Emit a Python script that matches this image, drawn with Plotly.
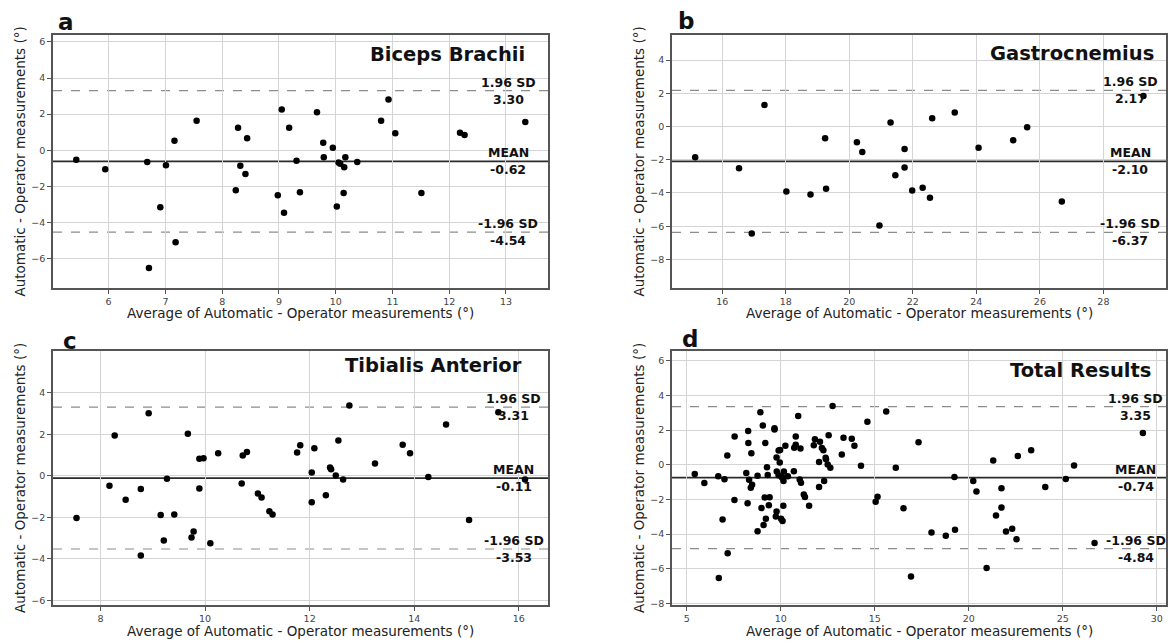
import plotly.graph_objects as go

# ---------------- data ----------------
a_x = [5.43, 5.94, 6.68, 7.01, 6.91, 7.16, 7.55, 7.18, 6.71, 8.28, 8.44, 8.32, 8.41, 8.24, 8.98,
       9.05, 9.18, 9.31, 9.09, 9.37, 9.67, 9.78, 9.79, 9.95, 10.05, 10.08, 10.15, 10.17, 10.38,
       10.14, 10.02, 10.80, 10.93, 11.05, 11.51, 12.19, 12.27, 13.34]
a_y = [-0.53, -1.05, -0.66, -0.83, -3.16, 0.53, 1.63, -5.10, -6.53, 1.25, 0.66, -0.86, -1.32, -2.22, -2.50,
       2.26, 1.25, -0.59, -3.47, -2.33, 2.11, 0.42, -0.39, 0.13, -0.68, -0.75, -0.94, -0.39, -0.66,
       -2.37, -3.12, 1.63, 2.81, 0.94, -2.37, 0.97, 0.84, 1.56]

b_x = [15.15, 16.53, 16.93, 17.33, 18.02, 18.78, 19.24, 19.27, 20.24, 20.41, 20.95, 21.30, 21.74,
       21.74, 21.45, 21.98, 22.31, 22.54, 22.61, 23.32, 24.07, 25.16, 25.60, 26.69, 29.26]
b_y = [-1.85, -2.51, -6.44, 1.30, -3.91, -4.09, -0.70, -3.75, -0.94, -1.54, -5.96, 0.24, -1.36,
       -2.47, -2.93, -3.85, -3.69, -4.29, 0.50, 0.84, -1.28, -0.82, -0.04, -4.51, 1.83]

c_x = [7.54, 8.17, 8.27, 8.48, 8.77, 8.77, 8.92, 9.15, 9.21, 9.27, 9.41, 9.67, 9.74, 9.78, 9.89,
       9.97, 9.89, 10.10, 10.25, 10.70, 10.72, 10.80, 11.01, 11.08, 11.23, 11.29, 11.76, 11.82,
       12.09, 12.04, 12.04, 12.31, 12.39, 12.41, 12.50, 12.55, 12.64, 12.76, 13.25, 13.78, 13.92,
       14.27, 14.61, 15.05, 15.61, 16.12]
c_y = [-2.03, -0.48, 1.94, -1.15, -0.64, -3.84, 3.02, -1.89, -3.12, -0.14, -1.87, 2.03, -2.98, -2.69, 0.82,
       0.85, -0.61, -3.25, 1.09, -0.37, 0.98, 1.15, -0.85, -1.04, -1.71, -1.86, 1.12, 1.47,
       1.33, 0.16, -1.28, -0.94, 0.40, 0.32, 0.02, 1.70, -0.18, 3.39, 0.59, 1.50, 1.09,
       -0.06, 2.48, -2.13, 3.07, -0.18]

# Total results = all muscles together
d_x = a_x + b_x + c_x
d_y = a_y + b_y + c_y

# upper limit, mean, lower limit
a_stats = [3.30, -0.62, -4.54]
b_stats = [2.17, -2.10, -6.37]
c_stats = [3.31, -0.11, -3.53]
d_stats = [3.35, -0.74, -4.84]

panel_letters = ["a", "b", "c", "d"]
panel_titles = ["Biceps Brachii", "Gastrocnemius", "Tibialis Anterior", "Total Results"]

a_xticks = [6, 7, 8, 9, 10, 11, 12, 13]
a_yticks = [-6, -4, -2, 0, 2, 4, 6]
b_xticks = [16, 18, 20, 22, 24, 26, 28]
b_yticks = [-8, -6, -4, -2, 0, 2, 4]
c_xticks = [8, 10, 12, 14, 16]
c_yticks = [-6, -4, -2, 0, 2, 4]
d_xticks = [5, 10, 15, 20, 25, 30]
d_yticks = [-8, -6, -4, -2, 0, 2, 4, 6]

y_title = "Automatic - Operator measurements (°)"
x_title = "Average of Automatic - Operator measurements (°)"

# ---------------- layout helpers ----------------
W, H = 1171, 643
FONT = "DejaVu Sans"


def fx(px):
    return px / W


def fy(py):
    return 1 - py / H


# pixel frames: (left, right, top, bottom)
frames = [(53, 548, 35, 290), (672, 1166, 35, 290), (53, 548, 353, 609), (672, 1166, 353, 609)]
xranges = [[5.02, 13.74], [14.42, 29.97], [7.09, 16.56], [4.22, 30.49]]
yranges = [[-7.65, 6.40], [-9.73, 5.52], [-6.24, 6.03], [-8.10, 6.57]]
label_x = [13.04, 28.84, 15.90, 28.87]          # centre of limit labels (data x)
title_right_px = [527, 1156, 524, 1153]
title_y_px = [55, 54, 368, 373]
letter_pos = [(56, 22), (676, 21), (61, 343), (680, 341)]

panels = [
    (a_x, a_y, a_stats, a_xticks, a_yticks),
    (b_x, b_y, b_stats, b_xticks, b_yticks),
    (c_x, c_y, c_stats, c_xticks, c_yticks),
    (d_x, d_y, d_stats, d_xticks, d_yticks),
]

fig = go.Figure()
annotations = []
shapes = []
layout_axes = {}

for i, (xs, ys, stats, xt, yt) in enumerate(panels):
    n = "" if i == 0 else str(i + 1)
    xa, ya = "x" + n, "y" + n
    l, r, t, b = frames[i]
    fig.add_trace(go.Scatter(
        x=xs, y=ys, mode="markers", xaxis=xa, yaxis=ya,
        marker=dict(color="black", size=6.5, line=dict(width=0)),
        showlegend=False, hoverinfo="x+y"))

    common = dict(showline=True, mirror=True, linecolor="#555555", linewidth=1.5,
                  showgrid=True, gridcolor="#d4d4d4", gridwidth=1, zeroline=False,
                  ticks="outside", ticklen=4, tickwidth=1, tickcolor="#555555",
                  tickfont=dict(family=FONT, size=9.5, color="#444444"))
    layout_axes["xaxis" + n] = dict(common, domain=[fx(l), fx(r)], range=xranges[i],
                                    tickvals=xt, anchor=ya)
    layout_axes["yaxis" + n] = dict(common, domain=[fy(b), fy(t)], range=yranges[i],
                                    tickvals=yt, anchor=xa)

    # horizontal lines
    for j, v in enumerate(stats):
        shapes.append(dict(
            type="line", xref=xa + " domain", yref=ya, x0=0, x1=1, y0=v, y1=v,
            layer="below",
            line=dict(color="#2b2b2b" if j == 1 else "#8c8c8c",
                      width=1.8 if j == 1 else 1.2,
                      dash="solid" if j == 1 else "dash")))

    # limit labels
    tops = ["1.96 SD", "MEAN", "-1.96 SD"]
    for j, v in enumerate(stats):
        for txt, anchor in ((tops[j], "bottom"), ("%.2f" % v, "top")):
            annotations.append(dict(
                x=label_x[i], y=v, xref=xa, yref=ya, text="<b>%s</b>" % txt,
                showarrow=False, xanchor="center", yanchor=anchor, borderpad=0,
                font=dict(family=FONT, size=12.5, color="#111111")))

    # panel title inside plot
    annotations.append(dict(
        x=fx(title_right_px[i]), y=fy(title_y_px[i]), xref="paper", yref="paper",
        text="<b>%s</b>" % panel_titles[i], showarrow=False,
        xanchor="right", yanchor="middle",
        font=dict(family=FONT, size=19.5, color="#111111")))

    # panel letter
    lx, ly = letter_pos[i]
    annotations.append(dict(
        x=fx(lx), y=fy(ly), xref="paper", yref="paper",
        text="<b>%s</b>" % panel_letters[i], showarrow=False,
        xanchor="left", yanchor="middle",
        font=dict(family=FONT, size=23, color="#111111")))

    # axis titles
    annotations.append(dict(
        x=fx(20 if i % 2 == 0 else 639), y=fy((t + b) / 2), xref="paper", yref="paper",
        text=y_title, showarrow=False, textangle=-90,
        xanchor="center", yanchor="middle",
        font=dict(family=FONT, size=13.5, color="#222222")))
    annotations.append(dict(
        x=fx((l + r) / 2), y=fy(315 if i < 2 else 635), xref="paper", yref="paper",
        text=x_title, showarrow=False,
        xanchor="center", yanchor="middle",
        font=dict(family=FONT, size=13.5, color="#222222")))

fig.update_layout(
    width=W, height=H,
    margin=dict(l=0, r=0, t=0, b=0),
    paper_bgcolor="white", plot_bgcolor="white",
    font=dict(family=FONT),
    annotations=annotations, shapes=shapes,
    **layout_axes)

fig.write_html(
    "out.html",
    config={"displayModeBar": False},
    post_script="document.body.style.margin='0';document.body.style.overflow='hidden';")
